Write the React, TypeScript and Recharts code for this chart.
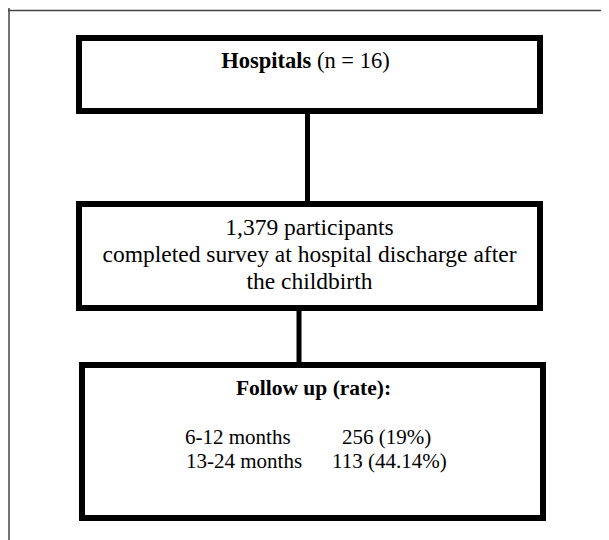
import {
  ComposedChart,
  ReferenceArea,
  ReferenceLine,
  Scatter,
  XAxis,
  YAxis,
} from "recharts";

const hospitalCount = 16;
const participantCount = 1379;
const surveyLines = [
  "completed survey at hospital discharge after",
  "the childbirth",
];
const followUpPeriods = ["6-12 months", "13-24 months"];
const followUpCounts = [256, 113];
const followUpRates = ["19%", "44.14%"];

// layout, in page pixels (axes map 1:1 onto the page)
const boxes = {
  hospitals: { x1: 79, x2: 540, y1: 38, y2: 111 },
  survey: { x1: 79, x2: 540, y1: 204, y2: 308 },
  followUp: { x1: 82, x2: 543, y1: 365, y2: 518 },
};
const periodX = [103, 104];
const valueX = [260, 250];

const connectorA = [
  { x: 307.5, y: boxes.hospitals.y2 },
  { x: 307.5, y: boxes.survey.y1 },
];
const connectorB = [
  { x: 299, y: boxes.survey.y2 },
  { x: 299, y: boxes.followUp.y1 },
];

const FONT = "'Liberation Serif', 'Times New Roman', serif";

type VB = { x: number; y: number; width: number; height: number };

function HospitalsLabel(props: any) {
  const vb: VB = props.viewBox;
  return (
    <text
      x={vb.x + vb.width / 2 - 4}
      y={vb.y + 30}
      textAnchor="middle"
      fontFamily={FONT}
      fontSize={22.5}
      fill="#000"
    >
      <tspan fontWeight="bold">Hospitals</tspan>
      <tspan>{` (n = ${hospitalCount})`}</tspan>
    </text>
  );
}

function SurveyLabel(props: any) {
  const vb: VB = props.viewBox;
  const lines = [
    `${participantCount.toLocaleString("en-US")} participants`,
    ...surveyLines,
  ];
  return (
    <g>
      {lines.map((l, i) => (
        <text
          key={i}
          x={vb.x + vb.width / 2}
          y={vb.y + 31 + i * 27}
          textAnchor="middle"
          fontFamily={FONT}
          fontSize={23.5}
          fill="#000"
        >
          {l}
        </text>
      ))}
    </g>
  );
}

function FollowUpLabel(props: any) {
  const vb: VB = props.viewBox;
  return (
    <g fontFamily={FONT} fontSize={21} fill="#000">
      <text
        x={vb.x + vb.width / 2 + 1}
        y={vb.y + 30}
        textAnchor="middle"
        fontWeight="bold"
        fontSize={21.5}
      >
        Follow up (rate):
      </text>
      {followUpPeriods.map((p, i) => (
        <g key={p}>
          <text x={vb.x + periodX[i]} y={vb.y + 79 + i * 24}>
            {p}
          </text>
          <text x={vb.x + valueX[i]} y={vb.y + 79 + i * 24}>
            {`${followUpCounts[i]} (${followUpRates[i]})`}
          </text>
        </g>
      ))}
    </g>
  );
}

const noDot = () => <g />;

export default function App() {
  const boxStyle = {
    fill: "#fff",
    fillOpacity: 1,
    stroke: "#000",
    strokeWidth: 6,
    ifOverflow: "visible" as const,
  };
  return (
    <div style={{ width: 601, height: 532, background: "#fff" }}>
      <ComposedChart
        width={601}
        height={532}
        margin={{ top: 0, right: 0, bottom: 0, left: 0 }}
      >
        <XAxis
          type="number"
          dataKey="x"
          domain={[8, 609]}
          hide
          allowDataOverflow
        />
        <YAxis
          type="number"
          dataKey="y"
          domain={[8, 540]}
          reversed
          hide
          allowDataOverflow
        />

        {/* frame */}
        <ReferenceLine x={9} stroke="#444" strokeWidth={1.5} />
        <ReferenceLine y={10.5} stroke="#444" strokeWidth={1.5} />

        {/* connectors */}
        <Scatter
          data={connectorA}
          line={{ stroke: "#000", strokeWidth: 5 }}
          shape={noDot}
          isAnimationActive={false}
        />
        <Scatter
          data={connectorB}
          line={{ stroke: "#000", strokeWidth: 5 }}
          shape={noDot}
          isAnimationActive={false}
        />

        <ReferenceArea
          {...boxes.hospitals}
          {...boxStyle}
          label={<HospitalsLabel />}
        />
        <ReferenceArea
          {...boxes.survey}
          {...boxStyle}
          label={<SurveyLabel />}
        />
        <ReferenceArea
          {...boxes.followUp}
          {...boxStyle}
          label={<FollowUpLabel />}
        />
      </ComposedChart>
    </div>
  );
}
